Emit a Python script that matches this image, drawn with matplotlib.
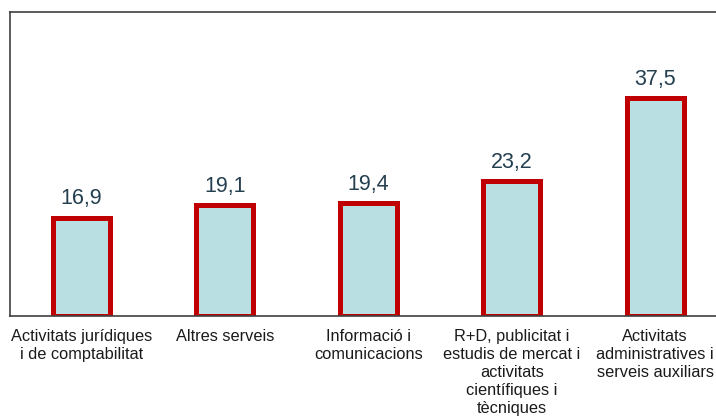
import matplotlib.pyplot as plt
import numpy as np

plt.rcParams['font.family'] = ['Liberation Sans', 'DejaVu Sans']

categories = [
    "Activitats jurídiques\ni de comptabilitat",
    "Altres serveis",
    "Informació i\ncomunicacions",
    "R+D, publicitat i\nestudis de mercat i\nactivitats\ncientífiques i\ntècniques",
    "Activitats\nadministratives i\nserveis auxiliars",
]
values = [16.9, 19.1, 19.4, 23.2, 37.5]
value_labels = ["16,9", "19,1", "19,4", "23,2", "37,5"]

fig = plt.figure(figsize=(7.16, 4.19), dpi=100)
# axes runs a bit past the right edge of the picture, like the original
ax = fig.add_axes([9.5 / 716, 103 / 419, 717.5 / 716, 304 / 419])

x = np.arange(len(values))
ax.bar(x, values, width=0.4, color="#B9DFE2", edgecolor="#C00000", linewidth=3.6)

for xi, v, lab in zip(x, values, value_labels):
    ax.annotate(lab, (xi, v), xytext=(0, 6), textcoords="offset points",
                ha="center", va="bottom", fontsize=15.5, color="#243F4F")

ax.set_xlim(-0.5, len(values) - 0.5)
ax.set_ylim(0, 52.3)
ax.set_yticks([])
ax.set_xticks(x)
ax.set_xticklabels(categories, fontsize=11.8, color="#1a1a1a", linespacing=1.27)
ax.tick_params(axis="x", length=0, pad=9)

for s in ax.spines.values():
    s.set_color("#404040")
    s.set_linewidth(1.2)

fig.savefig("out.png", dpi=100)
